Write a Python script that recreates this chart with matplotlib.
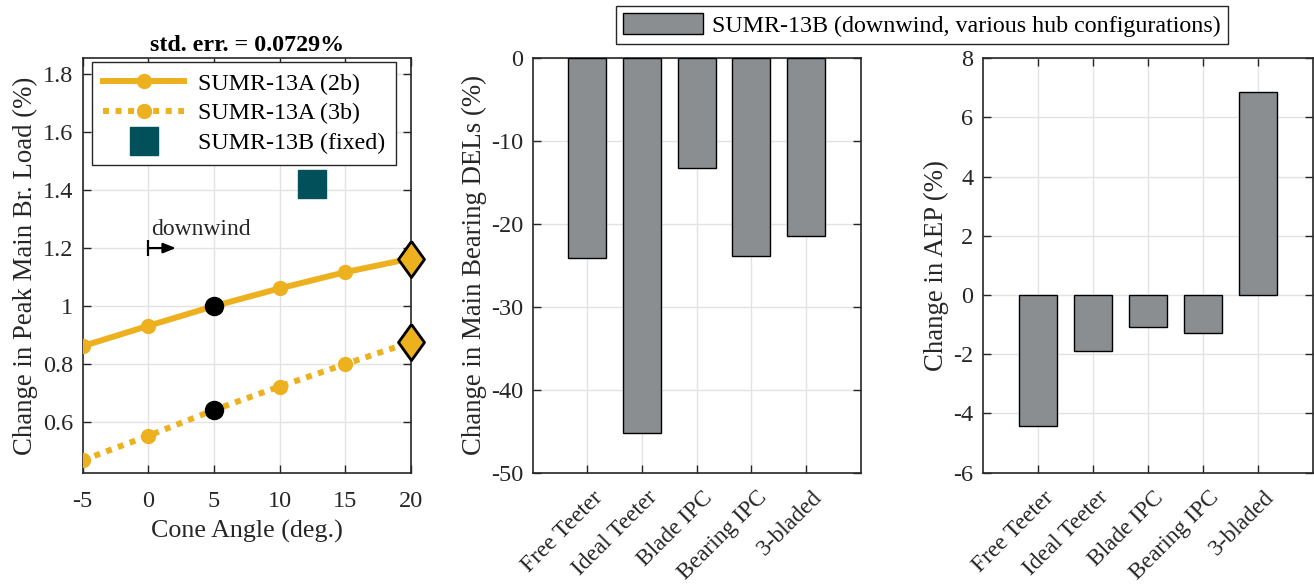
import matplotlib
matplotlib.use("Agg")
import matplotlib.pyplot as plt
import matplotlib.transforms as mtrans
import numpy as np
from matplotlib.patches import Patch

plt.rcParams['font.family'] = ['Liberation Serif', 'DejaVu Serif']
plt.rcParams['axes.unicode_minus'] = False
plt.rcParams['mathtext.fontset'] = 'stix'

# ---------------- data ----------------
cone_angles = [-5, 0, 5, 10, 15, 20]
load_2b = [0.862, 0.932, 1.0, 1.061, 1.117, 1.164]
load_3b = [0.469, 0.553, 0.642, 0.723, 0.800, 0.876]
fixed_13b_angle = [12.5]
fixed_13b_load = [1.42]
baseline_angle = 5      # black circle
max_angle = 20          # diamond
arrow_start = 0
arrow_end = 2.1
arrow_level = 1.2

configs = ['Free Teeter', 'Ideal Teeter', 'Blade IPC', 'Bearing IPC', '3-bladed']
del_change = [-24.1, -45.2, -13.2, -23.8, -21.5]
aep_change = [-4.43, -1.88, -1.07, -1.28, 6.85]

title_text = 'std. err. = 0.0729%'
# --------------------------------------

ORANGE = '#EDB120'
TEAL = '#01505A'
GRAY = '#8B8E91'
AXC = '#262626'
GRIDC = '#E3E3E3'
FS_TICK = 17.5
FS_ROT = 16.8
FS_XLAB = 18.7
FS_YLAB = 19.3
FS_LEG = 17.3

fig = plt.figure(figsize=(13.14, 5.84), dpi=100)
ax1 = fig.add_axes([0.0629, 0.1906, 0.2498, 0.7096])
ax2 = fig.add_axes([0.4054, 0.1906, 0.2496, 0.7096])
ax3 = fig.add_axes([0.7482, 0.1906, 0.2511, 0.7096])

def style(ax):
    ax.set_axisbelow(True)
    ax.grid(True, color=GRIDC, lw=1.0)
    for s in ax.spines.values():
        s.set_color(AXC)
        s.set_linewidth(1.2)
    ax.tick_params(direction='in', top=True, right=True, length=6, width=1.0,
                   colors=AXC, labelcolor=AXC, labelsize=FS_TICK)
    ax.tick_params(axis='y', pad=7)

# ---- left panel ----
style(ax1)
ax1.tick_params(axis='x', pad=13)
dia = [(0, 1), (0.72, 0), (0, -1), (-0.72, 0), (0, 1)]
ax1.plot(cone_angles, load_2b, '-', color=ORANGE, lw=4.3, marker='o', ms=10,
         label='SUMR-13A (2b)', zorder=3)
ax1.plot(cone_angles, load_3b, color=ORANGE, lw=4.3, marker='o', ms=10,
         linestyle=(0, (1.0, 1.1)), dash_capstyle='butt',
         label='SUMR-13A (3b)', zorder=3)
ax1.plot(fixed_13b_angle, fixed_13b_load, 's', color=TEAL, ms=19.5, ls='none',
         label='SUMR-13B (fixed)', zorder=3)
i_b = cone_angles.index(baseline_angle)
i_m = cone_angles.index(max_angle)
ax1.plot([baseline_angle] * 2, [load_2b[i_b], load_3b[i_b]], 'o', color='black',
         ms=13, ls='none', zorder=4)
ax1.plot([max_angle] * 2, [load_2b[i_m], load_3b[i_m]], marker=dia, ms=26,
         mfc=ORANGE, mec='black', mew=2.0, ls='none', zorder=5, clip_on=False)
ax1.set_xlim(-5, 20)
ax1.set_ylim(0.426, 1.854)
ax1.set_xticks([-5, 0, 5, 10, 15, 20])
ax1.set_yticks([0.6, 0.8, 1.0, 1.2, 1.4, 1.6, 1.8])
ax1.set_yticklabels(['0.6', '0.8', '1', '1.2', '1.4', '1.6', '1.8'])
ax1.set_xlabel('Cone Angle (deg.)', fontsize=FS_XLAB, color=AXC, labelpad=6)
ax1.set_ylabel('Change in Peak Main Br. Load (%)', fontsize=FS_YLAB, color=AXC, labelpad=3)
ax1.set_title(title_text, fontsize=17.3, fontweight='bold', pad=5)
ax1.annotate('', xy=(arrow_end, arrow_level), xytext=(arrow_start, arrow_level),
             arrowprops=dict(arrowstyle='-|>,head_length=0.75,head_width=0.3',
                             color='black', lw=1.6, shrinkA=0, shrinkB=0))
ax1.plot([arrow_start], [arrow_level], marker='|', ms=12, mew=1.6, color='black')
ax1.text(0.22, 1.245, 'downwind', fontsize=17, color=AXC)
leg1 = ax1.legend(loc='upper left', bbox_to_anchor=(0.028, 0.991), fontsize=FS_LEG,
                  frameon=True, fancybox=False, edgecolor=AXC, framealpha=1,
                  handlelength=3.4, borderaxespad=0, labelspacing=0.33,
                  borderpad=0.45, handletextpad=0.55)
leg1.get_frame().set_linewidth(1.0)

# ---- middle panel ----
xpos = np.arange(1, len(configs) + 1)
style(ax2)
ax2.bar(xpos, del_change, width=0.7, color=GRAY, edgecolor='black', lw=1.0, zorder=3)
ax2.set_xlim(0, 6)
ax2.set_ylim(-50, 0)
ax2.set_yticks([-50, -40, -30, -20, -10, 0])
ax2.set_xticks(xpos)
ax2.set_xticklabels(configs, rotation=45, ha='right', rotation_mode='anchor',
                    fontsize=FS_ROT)
ax2.set_ylabel('Change in Main Bearing DELs (%)', fontsize=FS_YLAB, color=AXC, labelpad=3)

# ---- right panel ----
style(ax3)
ax3.bar(xpos, aep_change, width=0.7, color=GRAY, edgecolor='black', lw=1.0, zorder=3)
ax3.set_xlim(0, 6)
ax3.set_ylim(-6, 8)
ax3.set_yticks([-6, -4, -2, 0, 2, 4, 6, 8])
ax3.set_xticks(xpos)
ax3.set_xticklabels(configs, rotation=45, ha='right', rotation_mode='anchor',
                    fontsize=FS_ROT)
ax3.set_ylabel('Change in AEP (%)', fontsize=FS_YLAB, color=AXC, labelpad=3)

shift = mtrans.ScaledTranslation(5 / 100, -2 / 100, fig.dpi_scale_trans)
for ax in (ax2, ax3):
    ax.tick_params(axis='x', pad=9)
    for lab in ax.get_xticklabels():
        lab.set_transform(lab.get_transform() + shift)

leg2 = fig.legend(handles=[Patch(facecolor=GRAY, edgecolor='black', lw=1.0)],
                  labels=['SUMR-13B (downwind, various hub configurations)'],
                  loc='center', bbox_to_anchor=(922 / 1314, 1 - 25 / 584),
                  fontsize=FS_LEG, frameon=True, fancybox=False, edgecolor=AXC,
                  framealpha=1, handlelength=3.3, handleheight=0.95,
                  borderpad=0.3, handletextpad=0.4)
leg2.get_frame().set_linewidth(1.0)

fig.savefig('out.png', dpi=100)
